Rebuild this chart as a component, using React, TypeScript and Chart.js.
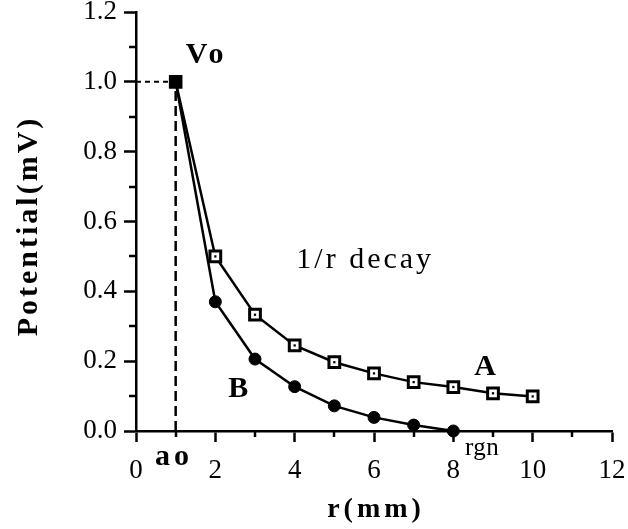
import React, { useEffect, useRef } from 'react';
import { Chart, registerables } from 'chart.js';

Chart.register(...registerables);

// ---- data ----
const rValuesA = [1, 2, 3, 4, 5, 6, 7, 8, 9, 10];
const seriesA = [1.0, 0.5, 0.333, 0.245, 0.197, 0.165, 0.14, 0.126, 0.108, 0.099];
const rValuesB = [1, 2, 3, 4, 5, 6, 7, 8];
const seriesB = [1.0, 0.37, 0.206, 0.127, 0.072, 0.039, 0.017, 0.0];
const voR = 1;
const voV = 1.0;
const xTicks = [0, 2, 4, 6, 8, 10, 12];
const yTicks = [0, 0.2, 0.4, 0.6, 0.8, 1.0, 1.2];
const xMinorTicks = [1, 3, 5, 7, 9, 11];
const yMinorTicks = [0.1, 0.3, 0.5, 0.7, 0.9, 1.1];
const xTitle = 'r(mm)';
const yTitle = 'Potential(mV)';

// text annotations (data-space anchor: centre x, baseline y)
const annotations = [
  { text: 'Vo', x: 1.73, y: 1.054, font: 'bold 30px "Liberation Serif"', spacing: 4 },
  { text: '1/r decay', x: 5.74, y: 0.467, font: '30px "Liberation Serif"', spacing: 3 },
  { text: 'A', x: 8.8, y: 0.16, font: 'bold 30px "Liberation Serif"', spacing: 0 },
  { text: 'B', x: 2.58, y: 0.097, font: 'bold 30px "Liberation Serif"', spacing: 0 },
  { text: 'ao', x: 0.91, y: -0.097, font: 'bold 30px "Liberation Serif"', spacing: 4 },
  { text: 'rgn', x: 8.72, y: -0.068, font: '25px "Liberation Serif"', spacing: 0.5 },
];

const extrasPlugin = {
  id: 'extras',
  afterDraw(chart: any) {
    const { ctx, chartArea, scales } = chart;
    const x = scales.x;
    const y = scales.y;
    ctx.save();
    ctx.strokeStyle = '#000';
    ctx.lineWidth = 2.5;
    ctx.beginPath();
    for (const v of xMinorTicks) {
      const px = Math.round(x.getPixelForValue(v));
      ctx.moveTo(px, chartArea.bottom);
      ctx.lineTo(px, chartArea.bottom + 6);
    }
    for (const v of yMinorTicks) {
      const py = Math.round(y.getPixelForValue(v));
      ctx.moveTo(chartArea.left - 7, py);
      ctx.lineTo(chartArea.left, py);
    }
    ctx.stroke();

    ctx.fillStyle = '#000';
    ctx.textAlign = 'center';
    ctx.textBaseline = 'alphabetic';
    for (const a of annotations) {
      ctx.font = a.font;
      (ctx as any).letterSpacing = a.spacing + 'px';
      ctx.fillText(a.text, x.getPixelForValue(a.x) + a.spacing / 2, y.getPixelForValue(a.y));
    }

    // axis titles
    ctx.textBaseline = 'middle';
    ctx.font = 'bold 28px "Liberation Serif"';
    (ctx as any).letterSpacing = '4px';
    ctx.fillText(xTitle, (chartArea.left + chartArea.right) / 2 + 2, chartArea.bottom + 79);

    ctx.save();
    ctx.translate(chartArea.left - 107, (chartArea.top + chartArea.bottom) / 2 + 6);
    ctx.rotate(-Math.PI / 2);
    ctx.font = 'bold 30px "Liberation Serif"';
    (ctx as any).letterSpacing = '3px';
    ctx.fillText(yTitle, 1.5, 0);
    ctx.restore();
    (ctx as any).letterSpacing = '0px';
    ctx.restore();
  },
};

export default function App() {
  const canvasRef = useRef<HTMLCanvasElement | null>(null);

  useEffect(() => {
    if (!canvasRef.current) return;
    const ptsA = rValuesA.map((r, i) => ({ x: r, y: seriesA[i] }));
    const ptsB = rValuesB.map((r, i) => ({ x: r, y: seriesB[i] }));

    const chart = new Chart(canvasRef.current, {
      type: 'line',
      data: {
        datasets: [
          {
            label: 'A centre dots',
            data: ptsA.slice(1),
            showLine: false,
            pointStyle: 'rect',
            pointRadius: 1.6,
            pointBackgroundColor: '#000',
            pointBorderColor: '#000',
            pointBorderWidth: 0,
            clip: false,
          },
          {
            label: 'A',
            data: ptsA,
            borderColor: '#000',
            borderWidth: 2.5,
            tension: 0,
            pointStyle: 'rect',
            pointRadius: (c: any) => (c.dataIndex === 0 ? 8.2 : 7.6),
            pointBackgroundColor: (c: any) => (c.dataIndex === 0 ? '#000' : '#fff'),
            pointBorderColor: '#000',
            pointBorderWidth: (c: any) => (c.dataIndex === 0 ? 2 : 3),
            clip: false,
          },
          {
            label: 'B',
            data: ptsB,
            borderColor: '#000',
            borderWidth: 2.5,
            tension: 0,
            pointStyle: 'circle',
            pointRadius: (c: any) => (c.dataIndex === 0 ? 0 : 6),
            pointBackgroundColor: '#000',
            pointBorderColor: '#000',
            pointBorderWidth: 1,
            clip: false,
          },
          {
            label: 'Vo level',
            data: [
              { x: 0, y: voV },
              { x: voR, y: voV },
            ],
            borderColor: '#000',
            borderWidth: 2,
            borderDash: [5, 4],
            pointRadius: 0,
            clip: false,
          },
          {
            label: 'ao',
            data: [
              { x: voR, y: 0 },
              { x: voR, y: voV },
            ],
            borderColor: '#000',
            borderWidth: 2.5,
            borderDash: [10, 5],
            pointRadius: 0,
            clip: false,
          },
        ],
      },
      options: {
        animation: false,
        responsive: true,
        maintainAspectRatio: false,
        devicePixelRatio: 1,
        layout: { padding: { top: 12, right: 16, left: 0, bottom: 0 } },
        plugins: {
          legend: { display: false },
          tooltip: { enabled: false },
        },
        scales: {
          x: {
            type: 'linear',
            min: 0,
            max: 12,
            afterBuildTicks: (s: any) => {
              s.ticks = xTicks.map((v) => ({ value: v }));
            },
            afterFit: (s: any) => {
              s.height = 98;
              s.paddingLeft = 0;
              s.paddingRight = 0;
            },
            ticks: {
              color: '#000',
              font: { family: '"Liberation Serif"', size: 27 },
              padding: 13,
              maxRotation: 0,
              callback: (v: any) => String(v),
            },
            grid: {
              display: true,
              drawOnChartArea: false,
              drawTicks: true,
              tickLength: 11,
              tickColor: '#000',
              tickWidth: 2.5,
            },
            border: { display: true, color: '#000', width: 2.5 },
          },
          y: {
            type: 'linear',
            min: 0,
            max: 1.2,
            afterBuildTicks: (s: any) => {
              s.ticks = yTicks.map((v) => ({ value: v }));
            },
            afterFit: (s: any) => {
              s.width = 136;
              s.paddingTop = 0;
              s.paddingBottom = 0;
            },
            ticks: {
              color: '#000',
              font: { family: '"Liberation Serif"', size: 27 },
              padding: 7,
              callback: (v: any) => Number(v).toFixed(1),
            },
            grid: {
              display: true,
              drawOnChartArea: false,
              drawTicks: true,
              tickLength: 12,
              tickColor: '#000',
              tickWidth: 2.5,
            },
            border: { display: true, color: '#000', width: 2.5 },
          },
        },
      },
      plugins: [extrasPlugin],
    } as any);

    return () => chart.destroy();
  }, []);

  return (
    <div style={{ position: 'fixed', left: 0, top: 0, width: 628, height: 529, background: '#fff' }}>
      <canvas ref={canvasRef} />
    </div>
  );
}
